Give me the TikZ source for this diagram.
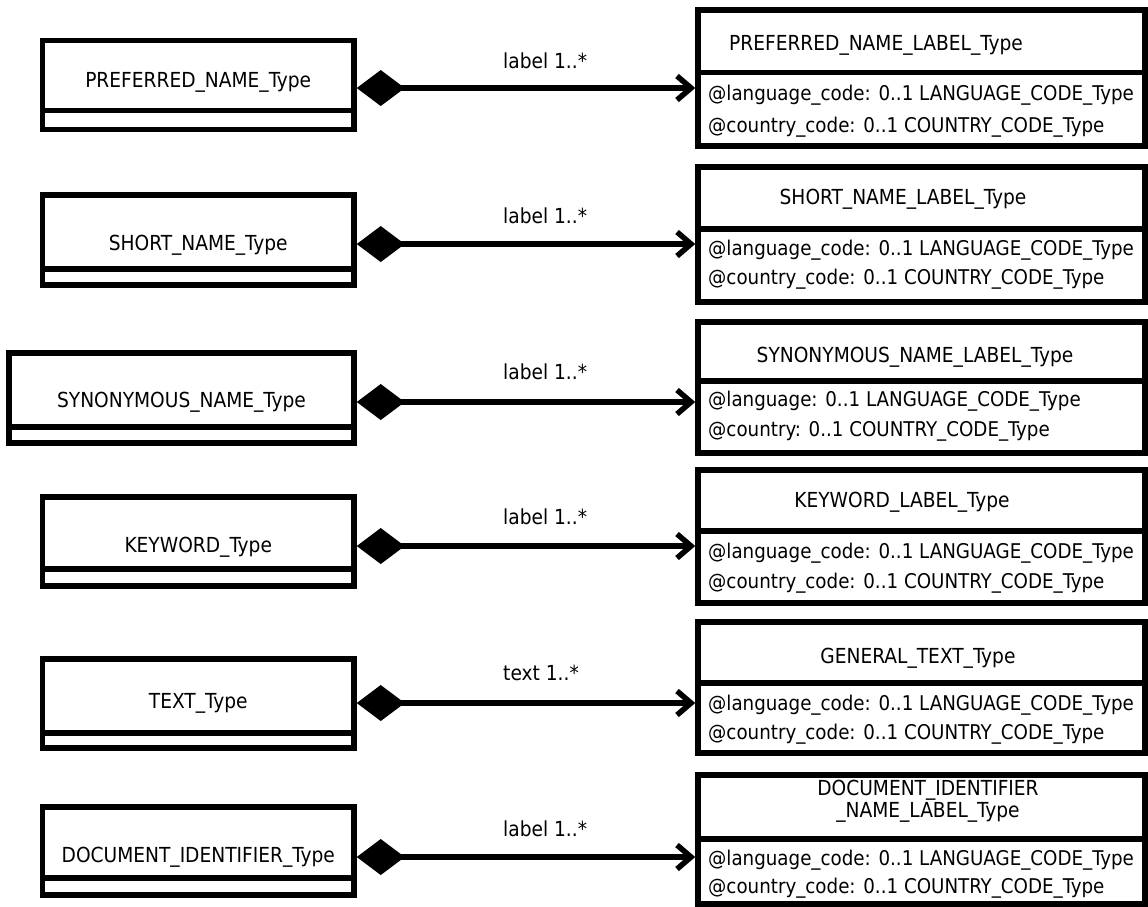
\documentclass[tikz,border=0pt]{standalone}
\usepackage{fontspec}
\setmainfont{DejaVu Sans Condensed}
\usetikzlibrary{arrows.meta}
\tikzset{
  box/.style={draw, line width=5.5pt, rectangle, inner sep=0pt},
  divline/.style={line width=5.5pt},
  txt/.style={inner sep=0pt, font=\fontsize{20.7}{24}\selectfont, text height=15.5pt, text depth=4pt},
  attr/.style={txt, anchor=west, font=\fontsize{20.3}{24}\selectfont},
  lab/.style={txt, anchor=west},
  title2/.style={inner sep=0pt, font=\fontsize{20.7}{22}\selectfont, align=center},
  comp/.style={line width=5.5pt, {Diamond[length=48pt,width=36pt,line width=0pt]}-{Straight Barb[length=14pt,width=24pt]}}
}
\newcommand\LeftBox[8]{% name, x1, x2, top, div, bottom, text, texty
  \pgfmathsetmacro\LBcx{(#2+#3)/2}%
  \pgfmathsetmacro\LBcy{(#4+#6)/2}%
  \pgfmathsetmacro\LBw{#3-#2}%
  \pgfmathsetmacro\LBh{#6-#4}%
  \node[box, minimum width=\LBw pt, minimum height=\LBh pt] (#1) at (\LBcx,\LBcy) {};
  \draw[divline] (#2-2.75,#5) -- (#3+2.75,#5);
  \node[txt] (#1t) at (\LBcx,#8) {#7};
}
\newcommand\RightBox[4]{% name, top, div, bottom
  \pgfmathsetmacro\RBcy{(#2+#4)/2}%
  \pgfmathsetmacro\RBh{#4-#2}%
  \node[box, minimum width=447pt, minimum height=\RBh pt] (#1) at (921.5,\RBcy) {};
  \draw[divline] (695.25,#3) -- (1147.75,#3);
}
\begin{document}
\begin{tikzpicture}[x=1pt,y=-1pt]
\useasboundingbox (0,0) rectangle (1148,906);
\fill[white] (0,0) rectangle (1148,906);

% left boxes
\LeftBox{L1}{42.5}{354}{40.5}{110.5}{129.5}{PREFERRED\_NAME\_Type}{82}
\LeftBox{L2}{42.5}{354}{195}{269}{285}{SHORT\_NAME\_Type}{245}
\LeftBox{L3}{9}{354}{353}{427}{443}{SYNONYMOUS\_NAME\_Type}{402}
\LeftBox{L4}{42.5}{354}{497}{569}{586}{KEYWORD\_Type}{547}
\LeftBox{L5}{42.5}{354}{659}{733}{748}{TEXT\_Type}{703}
\LeftBox{L6}{42.5}{354}{807}{878}{895}{DOCUMENT\_IDENTIFIER\_Type}{857}

% right boxes
\RightBox{R1}{10}{72.5}{146}
\node[txt] (R1t) at (876,45) {PREFERRED\_NAME\_LABEL\_Type};
\node[attr] (R1a) at (708,95) {@language\_code: 0..1 LANGUAGE\_CODE\_Type};
\node[attr] (R1b) at (708,127) {@country\_code: 0..1 COUNTRY\_CODE\_Type};

\RightBox{R2}{167}{229}{302}
\node[txt] (R2t) at (903,199) {SHORT\_NAME\_LABEL\_Type};
\node[attr] (R2a) at (708,250) {@language\_code: 0..1 LANGUAGE\_CODE\_Type};
\node[attr] (R2b) at (708,279) {@country\_code: 0..1 COUNTRY\_CODE\_Type};

\RightBox{R3}{322}{381}{453}
\node[txt] (R3t) at (915,357) {SYNONYMOUS\_NAME\_LABEL\_Type};
\node[attr] (R3a) at (708,401) {@language: 0..1 LANGUAGE\_CODE\_Type};
\node[attr] (R3b) at (708,431) {@country: 0..1 COUNTRY\_CODE\_Type};

\RightBox{R4}{470}{531}{603}
\node[txt] (R4t) at (902,502) {KEYWORD\_LABEL\_Type};
\node[attr] (R4a) at (708,553) {@language\_code: 0..1 LANGUAGE\_CODE\_Type};
\node[attr] (R4b) at (708,583) {@country\_code: 0..1 COUNTRY\_CODE\_Type};

\RightBox{R5}{622}{683}{753}
\node[txt] (R5t) at (918,658) {GENERAL\_TEXT\_Type};
\node[attr] (R5a) at (708,705) {@language\_code: 0..1 LANGUAGE\_CODE\_Type};
\node[attr] (R5b) at (708,734) {@country\_code: 0..1 COUNTRY\_CODE\_Type};

\RightBox{R6}{775}{839}{904}
\node[title2] (R6t) at (928,801) {DOCUMENT\_IDENTIFIER\\\_NAME\_LABEL\_Type};
\node[attr] (R6a) at (708,860) {@language\_code: 0..1 LANGUAGE\_CODE\_Type};
\node[attr] (R6b) at (708,888) {@country\_code: 0..1 COUNTRY\_CODE\_Type};

% connectors
\draw[comp] ([yshift=-3pt]L1.east) -- ([yshift=-3pt]L1.east -| R1.west);
\draw[comp] ([yshift=-4pt]L2.east) -- ([yshift=-4pt]L2.east -| R2.west);
\draw[comp] ([yshift=-4pt]L3.east) -- ([yshift=-4pt]L3.east -| R3.west);
\draw[comp] ([yshift=-4.5pt]L4.east) -- ([yshift=-4.5pt]L4.east -| R4.west);
\draw[comp] ([yshift=0.5pt]L5.east) -- ([yshift=0.5pt]L5.east -| R5.west);
\draw[comp] ([yshift=-6pt]L6.east) -- ([yshift=-6pt]L6.east -| R6.west);

% connector labels
\node[lab] (C1) at (503,63) {label 1..*};
\node[lab] (C2) at (503,218) {label 1..*};
\node[lab] (C3) at (503,374) {label 1..*};
\node[lab] (C4) at (503,519) {label 1..*};
\node[lab] (C5) at (503,675) {text 1..*};
\node[lab] (C6) at (503,831) {label 1..*};
\end{tikzpicture}
\end{document}
